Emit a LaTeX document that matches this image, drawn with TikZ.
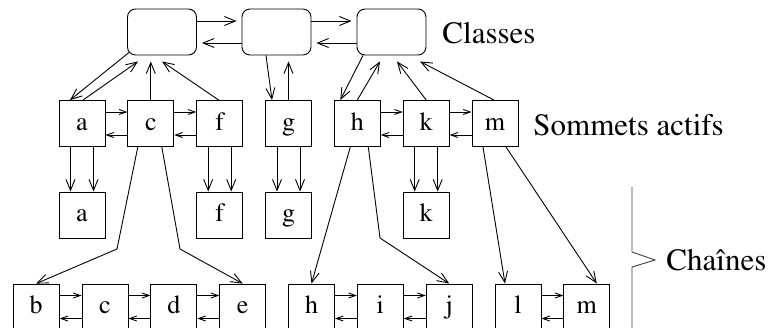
\documentclass[tikz,border=0pt]{standalone}
\usepackage[T1]{fontenc}
\renewcommand{\rmdefault}{ptm}
\usetikzlibrary{arrows.meta}

\begin{document}
\begin{tikzpicture}[x=1pt,y=-1pt,line width=0.9pt,
    caja/.style={draw,minimum width=46pt,minimum height=46pt,inner sep=0pt,
      text height=18pt,text depth=5pt,font=\fontsize{26}{30}\selectfont},
    clase/.style={draw,rounded corners=8pt,minimum width=69pt,minimum height=46pt},
    etiq/.style={anchor=base west,inner sep=0pt,font=\fontsize{31}{36}\selectfont},
    fl/.style={-{Straight Barb[length=11pt,width=9pt]}},
    fc/.style={-{Straight Barb[length=7pt,width=5pt]}}]
    \useasboundingbox (0,0) rectangle (770,327);
    \clip (0,0) rectangle (770,327);
    % Classes
    \node[clase] (cl1) at (162,32) {};
    \node[clase] (cl2) at (276.5,32) {};
    \node[clase] (cl3) at (391.5,32) {};
    \draw[fl,shorten >=5pt] ([yshift=11pt]cl1.east) -- ([yshift=11pt]cl2.west);
    \draw[fl,shorten >=5pt] ([yshift=-11pt]cl2.west) -- ([yshift=-11pt]cl1.east);
    \draw[fl,shorten >=5pt] ([yshift=11pt]cl2.east) -- ([yshift=11pt]cl3.west);
    \draw[fl,shorten >=5pt] ([yshift=-11pt]cl3.west) -- ([yshift=-11pt]cl2.east);
    % Sommets actifs
    \foreach \n/\x in {a/82, c/150.8, f/219.7, g/288.5, h/357.3, k/426.2, m/495}
      \node[caja] (s\n) at (\x,123.5) {\n};
    \foreach \u/\v in {a/c, c/f, h/k, k/m} {
      \draw[fc] ([yshift=11.5pt]s\u.east) -- ([yshift=11.5pt]s\v.west);
      \draw[fc] ([yshift=-11.5pt]s\v.west) -- ([yshift=-11.5pt]s\u.east);
    }
    % Sommets -> classes
    \draw[fl] ([xshift=2pt,yshift=3pt]cl1.south west) -- ([xshift=-12pt]sa.north);
    \draw[fl] ([xshift=1pt]sa.north) -- ([xshift=-24pt,yshift=-6pt]cl1.south);
    \draw[fl] (sc.north) -- ([xshift=-11.2pt,yshift=-6pt]cl1.south);
    \draw[fl] ([xshift=-1pt]sf.north) -- ([yshift=-6pt]cl1.south);
    \draw[fl] ([xshift=-10.5pt]cl2.south) -- ([xshift=-16.5pt]sg.north);
    \draw[fl] (sg.north) -- ([xshift=12pt,yshift=-6pt]cl2.south);
    \draw[fl] ([xshift=-28.5pt]cl3.south) -- ([xshift=-17pt]sh.north);
    \draw[fl] (sh.north) -- ([xshift=-11.5pt,yshift=-6pt]cl3.south);
    \draw[fl] (sk.north) -- ([xshift=5.5pt,yshift=-6pt]cl3.south);
    \draw[fl] ([xshift=-1pt]sm.north) -- ([xshift=28.5pt,yshift=-6pt]cl3.south);
    % Tetes de chaines
    \foreach \n/\x in {a/82, f/219.7, g/288.5, k/426.2}
      \node[caja] (t\n) at (\x,215) {\n};
    \foreach \n in {a,f,g,k} {
      \draw[fl] ([xshift=-11.5pt]s\n.south) -- ([xshift=-11.5pt]t\n.north);
      \draw[fl] ([xshift=11.5pt]s\n.south) -- ([xshift=11.5pt]t\n.north);
    }
    % Chaines
    \foreach \n/\x in {b/36.2, c/105, d/173.9, e/242.7, h/311.5, i/380.3, j/449.2, l/518, m/586.8}
      \node[caja] (c\n) at (\x,307) {\n};
    \foreach \u/\v in {b/c, c/d, d/e, h/i, i/j, l/m} {
      \draw[fc] ([yshift=11.5pt]c\u.east) -- ([yshift=11.5pt]c\v.west);
      \draw[fc] ([yshift=-11.5pt]c\v.west) -- ([yshift=-11.5pt]c\u.east);
    }
    % Sommets -> chaines
    \coordinate (pb) at (117,249);
    \coordinate (pe) at (180,249);
    \coordinate (pj) at (380,238);
    \draw[fl] ([xshift=-13pt]sc.south) -- (pb) -- (cb.north);
    \draw[fl] ([xshift=11pt]sc.south) -- (pe) -- (ce.north);
    \draw[fl] ([xshift=-7pt]sh.south) -- (ch.north);
    \draw[fl] ([xshift=11pt]sh.south) -- (pj) -- (cj.north);
    \draw[fl] ([xshift=-12pt]sm.south) -- ([xshift=-13pt]cl.north);
    \draw[fl] ([xshift=11pt]sm.south) -- ([xshift=10pt]cm.north);
    % Accolade
    \draw[black!75] (632,187) -- (632,252) -- (655,260) -- (632,267) -- (632,340);
    % Etiquettes
    \node[etiq] (lclasses) at (442,43) {Classes};
    \node[etiq] (lsommets) at (533,135) {Sommets actifs};
    \node[etiq] (lchaines) at (666,270) {Chaînes};
\end{tikzpicture}
\end{document}
